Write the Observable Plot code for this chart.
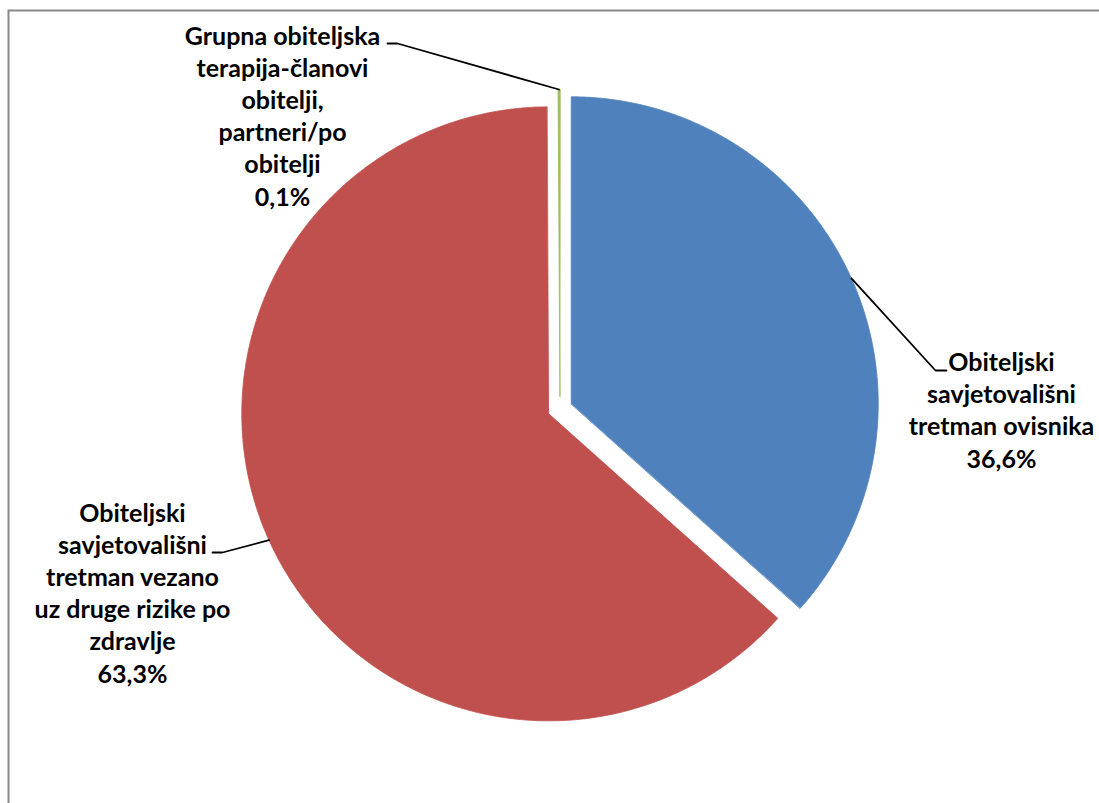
<!DOCTYPE html>
<html><head><meta charset="utf-8">
<script src="https://cdn.jsdelivr.net/npm/d3@7"></script>
<script src="https://cdn.jsdelivr.net/npm/@observablehq/plot@0.6"></script>
<style>html,body{margin:0;padding:0;background:#fff;} #chart{width:1099px;height:803px;}</style>
</head><body><div id="chart"></div>
<script>
// ---- data ----
const categories = [
  "Obiteljski savjetovališni tretman ovisnika",
  "Obiteljski savjetovališni tretman vezano uz druge rizike po zdravlje",
  "Grupna obiteljska terapija-članovi obitelji, partneri/po obitelji"
];
const labelLines = [
  ["Obiteljski", "savjetovališni", "tretman ovisnika"],
  ["Obiteljski", "savjetovališni", "tretman vezano", "uz druge rizike po", "zdravlje"],
  ["Grupna obiteljska", "terapija-članovi", "obitelji,", "partneri/po", "obitelji"]
];
const values = [36.6, 63.3, 0.1];

// ---- styles / layout ----
const sliceColors = ["#4F81BD", "#C0504D", "#9BBB59"];
const W = 1099, H = 803;
const pie = {cx: 559.5, cy: 408.3, r: 307, explode: 12.3};
const fontSize = 25, lineStep = 32.2;
// label centre x and baseline of the last line, plus leader elbow/end
const labelLayout = [
  {x: 1001, yLast: 467, elbow: [935, 370], end: [946, 370]},
  {x: 132, yLast: 682, elbow: [222, 552], end: [212, 552]},
  {x: 282, yLast: 205, elbow: [397, 43], end: [387, 43]}
];

const fmt = v => v.toFixed(1).replace(".", ",") + "%";

const arcs = d3.pie().sort(null).value(d => d)(values);
const slicePts = [], leaderPts = [], labels = [];
arcs.forEach((a, i) => {
  const cat = categories[i];
  const mid = (a.startAngle + a.endAngle) / 2;
  const ox = pie.cx + pie.explode * Math.sin(mid);
  const oy = pie.cy - pie.explode * Math.cos(mid);
  slicePts.push({cat, x: ox, y: oy});
  const n = Math.max(2, Math.ceil((a.endAngle - a.startAngle) / (Math.PI / 360)));
  for (let k = 0; k <= n; k++) {
    const t = a.startAngle + (a.endAngle - a.startAngle) * k / n;
    slicePts.push({cat, x: ox + pie.r * Math.sin(t), y: oy - pie.r * Math.cos(t)});
  }
  const L = labelLayout[i];
  leaderPts.push({cat, x: ox + pie.r * Math.sin(mid), y: oy - pie.r * Math.cos(mid)});
  leaderPts.push({cat, x: L.elbow[0], y: L.elbow[1]});
  leaderPts.push({cat, x: L.end[0], y: L.end[1]});
  labels.push({cat, x: L.x, y: L.yLast, text: [...labelLines[i], fmt(values[i])].join("\n")});
});

const chart = Plot.plot({
  width: W, height: H, margin: 0,
  x: {domain: [0, W], range: [0, W], axis: null},
  y: {domain: [0, H], range: [0, H], axis: null},
  color: {domain: categories, range: sliceColors},
  style: {background: "white"},
  marks: [
    Plot.frame({stroke: "#8a8a8a", strokeWidth: 2, insetLeft: 8, insetTop: 10, insetRight: -10, insetBottom: -10}),
    Plot.line(slicePts, {x: "x", y: "y", z: "cat", fill: "cat", stroke: "cat", strokeWidth: 0.8, curve: "linear-closed"}),
    Plot.line(leaderPts, {x: "x", y: "y", z: "cat", stroke: "black", strokeWidth: 1.8}),
    Plot.text(labels, {x: "x", y: "y", text: "text", lineAnchor: "bottom", lineHeight: lineStep / fontSize,
      fontSize, fontWeight: "bold", fontFamily: "Lato, sans-serif", textAnchor: "middle", fill: "black"})
  ]
});
document.getElementById("chart").appendChild(chart);
</script>
</body></html>
